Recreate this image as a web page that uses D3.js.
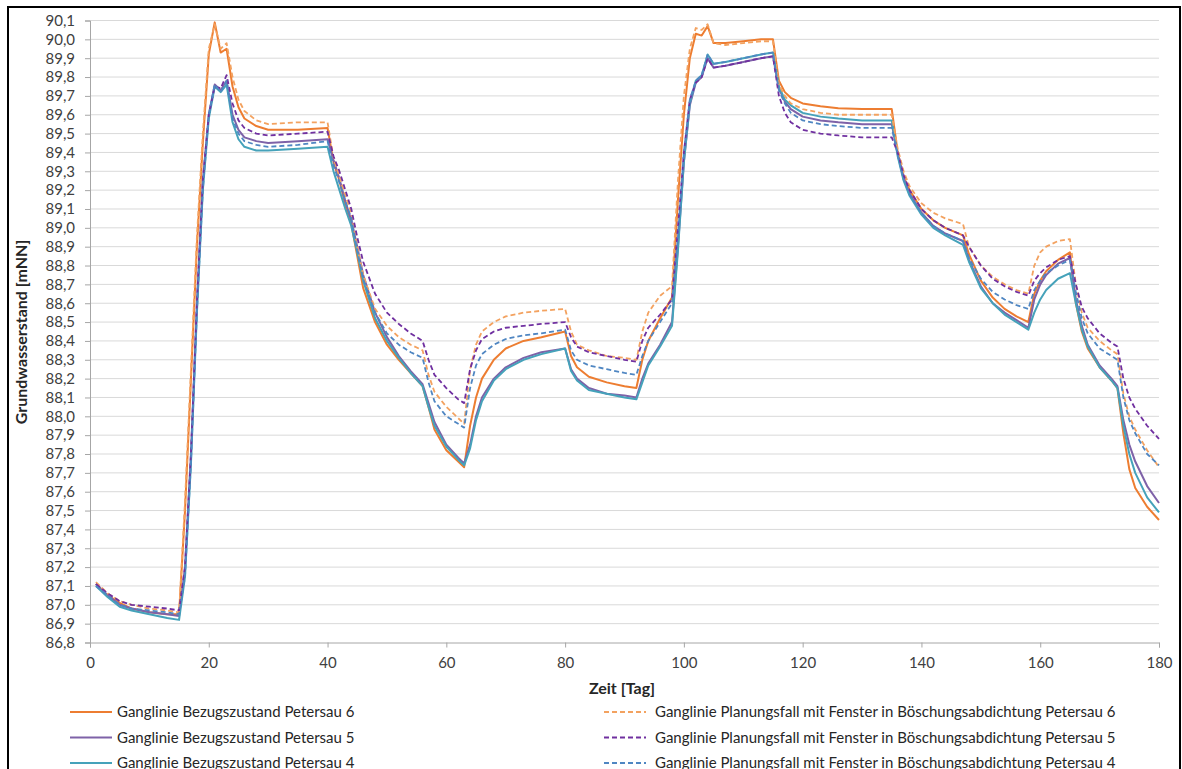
<!DOCTYPE html>
<html>
<head>
<meta charset="utf-8">
<script src="https://cdn.jsdelivr.net/npm/d3@7"></script>
<style>
  body { margin: 0; background: #fff; }
  text { font-family: Lato, "Open Sans", sans-serif; }
</style>
</head>
<body>
<div class="chart"></div>
<script>
// Tage (x)
const days = [1,3,5,7,10,13,15,16,17,18,19,20,21,22,23,24,25,26,28,30,35,40,
  41,42,43,44,45,46,48,50,52,54,56,57,58,60,62,63,64,65,66,68,70,73,76,80,
  81,82,84,87,90,92,93,94,96,98,99,100,101,102,103,104,105,107,110,113,115,
  116,117,118,120,123,126,130,135,136,137,138,140,142,144,147,
  148,150,152,154,156,158,159,160,161,163,165,166,167,168,170,172,173,
  174,175,176,178,180];

// Bezugszustand Petersau 6
const bez6 = [87.11,87.05,87.01,86.98,86.96,86.95,86.95,
  87.5,88.2,88.9,89.45,89.92,90.09,89.93,89.95,89.75,89.64,89.58,
  89.54,89.52,89.52,89.53,
  89.35,89.25,89.12,89.02,88.85,88.68,
  88.5,88.38,88.3,88.23,88.16,88.05,87.93,87.82,87.76,87.73,
  87.95,88.1,88.2,88.3,88.36,88.4,88.42,88.45,
  88.32,88.26,88.21,88.18,88.16,88.15,
  88.3,88.4,88.52,88.63,
  89.15,89.6,89.9,90.03,90.02,90.07,89.98,
  89.98,89.99,90.0,90.0,
  89.78,89.72,89.69,89.66,89.645,89.635,89.63,89.63,
  89.4,89.27,89.2,89.1,89.04,89.0,88.96,
  88.86,88.72,88.63,88.57,88.53,88.5,
  88.65,88.72,88.77,88.83,88.87,
  88.6,88.45,88.36,88.26,88.19,88.15,
  87.91,87.72,87.62,87.52,87.45];

// Bezugszustand Petersau 5
const bez5 = [87.11,87.05,87.0,86.98,86.96,86.95,86.94,
  87.2,87.8,88.6,89.25,89.6,89.76,89.73,89.78,89.6,89.52,89.48,
  89.46,89.45,89.46,89.47,
  89.36,89.26,89.14,89.04,88.9,88.75,
  88.55,88.42,88.32,88.24,88.17,88.07,87.97,87.85,87.78,87.75,
  87.85,88.0,88.1,88.2,88.26,88.31,88.34,88.36,
  88.25,88.2,88.15,88.12,88.11,88.1,
  88.2,88.28,88.38,88.5,
  88.9,89.35,89.65,89.77,89.8,89.9,89.85,
  89.86,89.88,89.9,89.91,
  89.74,89.67,89.63,89.59,89.57,89.56,89.55,89.55,
  89.39,89.26,89.18,89.08,89.01,88.97,88.93,
  88.83,88.69,88.6,88.55,88.51,88.47,
  88.62,88.7,88.75,88.81,88.84,
  88.62,88.48,88.38,88.27,88.2,88.16,
  87.98,87.85,87.76,87.63,87.54];

// Bezugszustand Petersau 4
const bez4 = [87.1,87.04,86.99,86.97,86.95,86.93,86.92,
  87.15,87.75,88.55,89.2,89.58,89.75,89.72,89.76,89.56,89.47,89.43,
  89.41,89.41,89.42,89.43,
  89.3,89.2,89.1,89.01,88.87,88.72,
  88.52,88.4,88.31,88.23,88.16,88.05,87.95,87.84,87.77,87.74,
  87.83,87.98,88.08,88.19,88.25,88.3,88.33,88.36,
  88.24,88.19,88.14,88.12,88.1,88.09,
  88.18,88.27,88.37,88.48,
  88.88,89.35,89.66,89.78,89.81,89.92,89.87,
  89.88,89.9,89.92,89.93,
  89.75,89.68,89.65,89.61,89.59,89.58,89.57,89.57,
  89.38,89.25,89.17,89.07,89.0,88.96,88.91,
  88.82,88.68,88.6,88.54,88.5,88.46,
  88.55,88.62,88.67,88.73,88.76,
  88.6,88.46,88.37,88.26,88.19,88.15,
  87.95,87.8,87.7,87.57,87.49];

// Planungsfall Petersau 6
const plan6 = [87.12,87.06,87.02,87.0,86.98,86.97,86.96,
  87.55,88.25,88.95,89.5,89.95,90.08,89.95,89.98,89.8,89.68,89.62,
  89.57,89.55,89.56,89.56,
  89.37,89.27,89.17,89.08,88.9,88.75,
  88.57,88.48,88.42,88.38,88.35,88.22,88.13,88.05,87.99,87.96,
  88.25,88.38,88.45,88.5,88.53,88.55,88.56,88.57,
  88.45,88.38,88.35,88.32,88.31,88.3,
  88.45,88.55,88.64,88.69,
  89.25,89.7,89.95,90.06,90.05,90.08,89.98,
  89.97,89.98,89.99,89.99,
  89.76,89.7,89.66,89.63,89.61,89.6,89.6,89.6,
  89.42,89.3,89.22,89.13,89.08,89.05,89.02,
  88.9,88.8,88.74,88.7,88.67,88.65,
  88.8,88.87,88.9,88.93,88.94,
  88.7,88.55,88.47,88.4,88.35,88.33,
  88.12,88.0,87.93,87.82,87.73];

// Planungsfall Petersau 5
const plan5 = [87.11,87.06,87.02,87.0,86.99,86.98,86.97,
  87.2,87.8,88.6,89.25,89.6,89.75,89.74,89.81,89.66,89.57,89.53,
  89.5,89.49,89.5,89.51,
  89.38,89.3,89.2,89.1,88.95,88.82,
  88.65,88.55,88.49,88.44,88.4,88.3,88.22,88.15,88.09,88.07,
  88.25,88.35,88.41,88.45,88.47,88.48,88.49,88.5,
  88.42,88.37,88.34,88.32,88.3,88.29,
  88.4,88.47,88.54,88.62,
  89.0,89.4,89.68,89.77,89.8,89.9,89.85,
  89.86,89.88,89.9,89.91,
  89.7,89.61,89.56,89.52,89.5,89.49,89.48,89.48,
  89.4,89.28,89.2,89.1,89.04,89.0,88.96,
  88.9,88.8,88.73,88.69,88.66,88.64,
  88.72,88.76,88.79,88.83,88.85,
  88.7,88.58,88.52,88.44,88.39,88.37,
  88.2,88.1,88.04,87.95,87.88];

// Planungsfall Petersau 4
const plan4 = [87.1,87.05,87.0,86.98,86.97,86.96,86.95,
  87.15,87.75,88.55,89.2,89.6,89.76,89.72,89.78,89.58,89.5,89.46,
  89.44,89.43,89.44,89.46,
  89.33,89.24,89.14,89.05,88.88,88.73,
  88.55,88.44,88.38,88.34,88.31,88.18,88.08,88.0,87.96,87.94,
  88.15,88.27,88.33,88.38,88.41,88.43,88.44,88.46,
  88.35,88.3,88.27,88.25,88.23,88.22,
  88.32,88.4,88.5,88.6,
  88.95,89.4,89.68,89.78,89.81,89.92,89.87,
  89.88,89.9,89.92,89.93,
  89.73,89.66,89.61,89.57,89.55,89.54,89.53,89.53,
  89.39,89.26,89.18,89.08,89.01,88.97,88.93,
  88.84,88.73,88.66,88.62,88.59,88.57,
  88.67,88.72,88.76,88.8,88.83,
  88.66,88.52,88.44,88.36,88.32,88.3,
  88.1,87.98,87.91,87.8,87.74];

const xTicks = [0,20,40,60,80,100,120,140,160,180];
const yTicks = d3.range(868, 902).map(v => v/10);

const series = [
  {name:'Ganglinie Bezugszustand Petersau 6', values:bez6, color:'#ED7D31', dash:null, col:0},
  {name:'Ganglinie Bezugszustand Petersau 5', values:bez5, color:'#7E62A8', dash:null, col:0},
  {name:'Ganglinie Bezugszustand Petersau 4', values:bez4, color:'#45A2BA', dash:null, col:0},
  {name:'Ganglinie Planungsfall mit Fenster in Böschungsabdichtung Petersau 6', values:plan6, color:'#F3A260', dash:'5,3', col:1},
  {name:'Ganglinie Planungsfall mit Fenster in Böschungsabdichtung Petersau 5', values:plan5, color:'#7030A0', dash:'5,3', col:1},
  {name:'Ganglinie Planungsfall mit Fenster in Böschungsabdichtung Petersau 4', values:plan4, color:'#4F86C2', dash:'5,3', col:1}
];

const width = 1182, height = 769;
const svg = d3.select('.chart').append('svg')
  .attr('width', width).attr('height', height);

// Rahmen
svg.append('rect')
  .attr('x', 8).attr('y', 7)
  .attr('width', 1172).attr('height', 780)
  .attr('fill', 'none').attr('stroke', '#000').attr('stroke-width', 2);

const x = d3.scaleLinear().domain([0,180]).range([90,1159]);
const y = d3.scaleLinear().domain([86.8,90.1]).range([642.5,20.5]);

// Gitter
svg.append('g').selectAll('line')
  .data(yTicks.slice(1))
  .enter().append('line')
  .attr('x1', 90).attr('x2', 1159)
  .attr('y1', d => y(d)).attr('y2', d => y(d))
  .attr('stroke', '#d9d9d9').attr('stroke-width', 1);

const fmt = d => d3.format('.1f')(d).replace('.', ',');

const yAxis = svg.append('g')
  .attr('transform', 'translate(90,0)')
  .call(d3.axisLeft(y).tickValues(yTicks).tickFormat(fmt).tickSize(5).tickPadding(10));
yAxis.selectAll('text').attr('font-size', 15).attr('fill', '#404040')
  .style('font-family', 'Lato, sans-serif');

const xAxis = svg.append('g')
  .attr('transform', 'translate(0,642.5)')
  .call(d3.axisBottom(x).tickValues(xTicks).tickSize(5).tickPadding(10));
xAxis.selectAll('text').attr('font-size', 15).attr('fill', '#404040')
  .style('font-family', 'Lato, sans-serif');

[yAxis, xAxis].forEach(a => {
  a.select('.domain').attr('stroke', '#a6a6a6');
  a.selectAll('.tick line').attr('stroke', '#a6a6a6');
});

// Linien
const line = d3.line()
  .x((d, i) => x(days[i]))
  .y(d => y(d));

svg.append('g').selectAll('path')
  .data(series)
  .enter().append('path')
  .attr('d', d => line(d.values))
  .attr('fill', 'none')
  .attr('stroke', d => d.color)
  .attr('stroke-width', d => d.dash ? 1.8 : 2)
  .attr('stroke-dasharray', d => d.dash)
  .attr('stroke-linejoin', 'round');

// Achsentitel
svg.append('text')
  .attr('x', 622).attr('y', 694)
  .attr('text-anchor', 'middle')
  .attr('font-size', 16).attr('font-weight', 'bold').attr('fill', '#262626')
  .text('Zeit [Tag]');

svg.append('text')
  .attr('transform', 'translate(27,332) rotate(-90)')
  .attr('text-anchor', 'middle')
  .attr('font-size', 16).attr('font-weight', 'bold').attr('fill', '#262626')
  .text('Grundwasserstand [mNN]');

// Legende
const legX = [70, 604];
const leg = svg.append('g').selectAll('g')
  .data(series)
  .enter().append('g')
  .attr('transform', (d, i) => 'translate(' + legX[d.col] + ',' + (712 + (i % 3) * 25.5) + ')');

leg.append('line')
  .attr('x1', 0).attr('x2', 42)
  .attr('y1', 0).attr('y2', 0)
  .attr('stroke', d => d.color)
  .attr('stroke-width', d => d.dash ? 1.8 : 2)
  .attr('stroke-dasharray', d => d.dash);

leg.append('text')
  .attr('x', d => d.col ? 51 : 47)
  .attr('y', 0).attr('dy', '0.35em')
  .attr('font-size', 15).attr('fill', '#262626')
  .text(d => d.name);
</script>
</body>
</html>
